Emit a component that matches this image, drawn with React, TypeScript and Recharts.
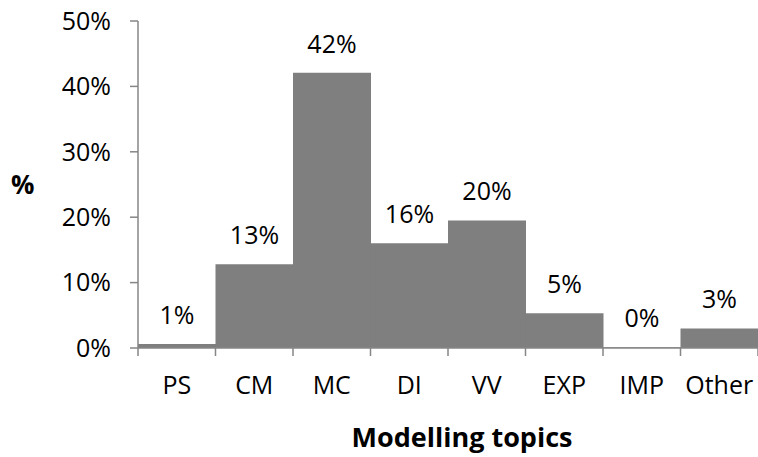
import { BarChart, Bar, XAxis, YAxis, LabelList, Label } from 'recharts';

const topics = ['PS', 'CM', 'MC', 'DI', 'VV', 'EXP', 'IMP', 'Other'];
const shares = [0.6, 12.8, 42.1, 16.0, 19.5, 5.3, 0.1, 3.0];
const yTicks = [0, 10, 20, 30, 40, 50];

const data = topics.map((topic, i) => ({ topic, share: shares[i] }));

const W = 758;
const H = 457;
const Y_AXIS_W = 138;
const BAND = (W - Y_AXIS_W) / topics.length;
const FONT = '"Open Sans", sans-serif';
const AXIS_GREY = '#868686';

// category ticks sit on the band edges, labels in the middle
const TopicTick = (props: any) => {
  const { x, y, payload, index } = props;
  const left = x - BAND / 2;
  return (
    <g>
      <line x1={left} y1={y} x2={left} y2={y + 8} stroke={AXIS_GREY} strokeWidth={1.5} />
      {index === topics.length - 1 && (
        <line x1={left + BAND} y1={y} x2={left + BAND} y2={y + 8} stroke={AXIS_GREY} strokeWidth={1.5} />
      )}
      <text x={x} y={y + 36} textAnchor="middle" dominantBaseline="central" fill="#000" fontSize={25} fontFamily={FONT}>
        {payload.value}
      </text>
    </g>
  );
};

export default function App() {
  return (
    <div style={{ position: 'absolute', left: 0, top: 0, width: W, height: H, background: '#fff' }}>
      <BarChart
        width={W}
        height={H}
        data={data}
        margin={{ top: 21, right: 0, left: 0, bottom: 0 }}
        barCategoryGap={0}
      >
        <XAxis
          dataKey="topic"
          height={109}
          tickSize={0}
          tickMargin={0}
          tickLine={false}
          axisLine={{ stroke: AXIS_GREY, strokeWidth: 1.5 }}
          tick={<TopicTick />}
          interval={0}
        >
          <Label
            value="Modelling topics"
            position="insideBottom"
            offset={10}
            dx={14}
            fill="#000"
            fontSize={27}
            fontWeight={700}
            fontFamily={FONT}
          />
        </XAxis>
        <YAxis
          width={Y_AXIS_W}
          domain={[0, 50]}
          ticks={yTicks}
          tickFormatter={(v: number) => `${v}%`}
          tickSize={8}
          tickMargin={19}
          tick={{ fill: '#000', fontSize: 25, fontFamily: FONT }}
          tickLine={{ stroke: AXIS_GREY, strokeWidth: 1.5 }}
          axisLine={{ stroke: AXIS_GREY, strokeWidth: 1.5 }}
        >
          <Label
            value="%"
            position="insideLeft"
            offset={11}
            fill="#000"
            fontSize={26}
            fontWeight={700}
            fontFamily={FONT}
          />
        </YAxis>
        <Bar dataKey="share" fill="#7f7f7f" isAnimationActive={false}>
          <LabelList
            dataKey="share"
            position="top"
            offset={20}
            formatter={(v: any) => `${Math.round(Number(v))}%`}
            fill="#000"
            fontSize={25}
            fontFamily={FONT}
          />
        </Bar>
      </BarChart>
    </div>
  );
}
